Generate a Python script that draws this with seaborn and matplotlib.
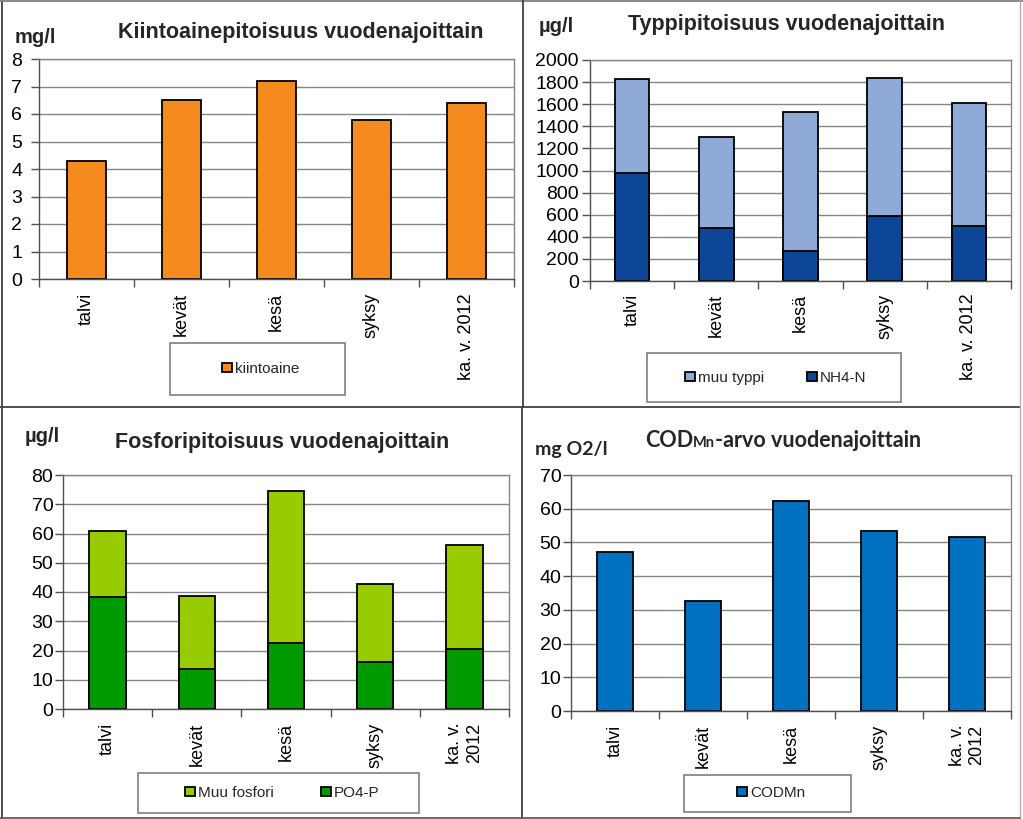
import matplotlib
matplotlib.use("Agg")
import matplotlib.pyplot as plt
import seaborn as sns
import numpy as np
from matplotlib.patches import Rectangle
from matplotlib.lines import Line2D

# ---------------- data ----------------
seasons = ["talvi", "kevät", "kesä", "syksy", "ka. v. 2012"]
labels_top = ["talvi", "kevät", "kesä", "syksy", "ka. v. 2012"]
labels_bottom = ["talvi", "kevät", "kesä", "syksy", "ka. v.\n2012"]

kiintoaine = [4.3, 6.5, 7.2, 5.8, 6.4]            # mg/l
nh4_n = [980, 480, 270, 585, 495]                  # µg/l
muu_typpi = [845, 825, 1260, 1250, 1120]           # µg/l
po4_p = [38.4, 13.7, 22.5, 15.9, 20.6]             # µg/l
muu_fosfori = [22.6, 25.0, 52.1, 27.0, 35.6]       # µg/l
codmn = [47.3, 32.7, 62.4, 53.3, 51.6]             # mg O2/l

c_orange = "#F58A1F"
c_lblue = "#8FAAD6"
c_dblue = "#0D4697"
c_lgreen = "#99CC00"
c_dgreen = "#009A00"
c_blue = "#0070C0"

W, H = 1023, 819
sns.set_theme(style="white")
plt.rcParams["font.family"] = ["Liberation Sans", "DejaVu Sans"]

fig = plt.figure(figsize=(W / 100, H / 100), dpi=100)
fig.patch.set_facecolor("white")


def rect(x0, y0, x1, y1):
    return [x0 / W, 1 - y1 / H, (x1 - x0) / W, (y1 - y0) / H]


def fp(x, y):
    return (x / W, 1 - y / H)


def style(ax, ymax, step, xlabels, ypad, xpad):
    ax.set_xlim(-0.5, 4.5)
    ax.set_ylim(0, ymax)
    ax.set_yticks(np.arange(0, ymax + step / 2, step))
    ax.yaxis.grid(True, color="#868686", lw=1)
    ax.xaxis.grid(False)
    ax.set_axisbelow(True)
    for s in ax.spines.values():
        s.set_visible(True)
        s.set_color("#868686")
        s.set_linewidth(1)
    ax.spines["left"].set_color("#505050")
    ax.spines["bottom"].set_color("#505050")
    ax.set_xticks(range(5))
    ax.set_xticklabels(xlabels, rotation=90, fontsize=13, va="top",
                       ha="center", multialignment="right")
    ax.set_xticks(np.arange(-0.5, 5, 1), minor=True)
    ax.tick_params(axis="x", which="major", length=0, pad=xpad, bottom=True,
                   colors="black")
    ax.tick_params(axis="x", which="minor", length=6, width=1,
                   color="#505050", direction="out", bottom=True)
    ax.tick_params(axis="y", length=6, width=1, color="#505050",
                   direction="out", left=True, labelsize=14, pad=ypad,
                   labelcolor="black")
    ax.set_xlabel("")
    ax.set_ylabel("")


bar_kw = dict(edgecolor="black", linewidth=1.3, saturation=1, width=0.41)

# ---------------- panel 1 ----------------
ax1 = fig.add_axes(rect(39, 59, 514, 279))
sns.barplot(x=seasons, y=kiintoaine, color=c_orange, label="kiintoaine",
            ax=ax1, **bar_kw)
style(ax1, 8, 1, labels_top, 6, 10)

# ---------------- panel 2 ----------------
ax2 = fig.add_axes(rect(590, 60, 1011, 281))
typpi_total = np.array(nh4_n) + np.array(muu_typpi)
sns.barplot(x=seasons, y=typpi_total, color=c_lblue, label="muu typpi",
            ax=ax2, **bar_kw)
sns.barplot(x=seasons, y=nh4_n, color=c_dblue, label="NH4-N", ax=ax2, **bar_kw)
style(ax2, 2000, 200, labels_top, 2, 9)

# ---------------- panel 3 ----------------
ax3 = fig.add_axes(rect(63, 475, 509, 709))
fosfori_total = np.array(po4_p) + np.array(muu_fosfori)
sns.barplot(x=seasons, y=fosfori_total, color=c_lgreen, label="Muu fosfori",
            ax=ax3, **bar_kw)
sns.barplot(x=seasons, y=po4_p, color=c_dgreen, label="PO4-P", ax=ax3, **bar_kw)
style(ax3, 80, 10, labels_bottom, 1, 10)

# ---------------- panel 4 ----------------
ax4 = fig.add_axes(rect(571, 475, 1011, 711))
sns.barplot(x=seasons, y=codmn, color=c_blue, label="CODMn", ax=ax4, **bar_kw)
style(ax4, 70, 10, labels_bottom, 1, 10)

# ---------------- legends ----------------
def legend(ax, center, ncol, colspace):
    h, l = ax.get_legend_handles_labels()
    lg = ax.legend(h, l, loc="center", bbox_to_anchor=fp(*center),
                   bbox_transform=fig.transFigure, frameon=False, ncol=ncol,
                   fontsize=11, handlelength=0.65, handleheight=0.6,
                   handletextpad=0.2, columnspacing=colspace, borderpad=0)
    return lg


def box(x0, y0, x1, y1):
    fig.patches.append(Rectangle(fp(x0, y1), (x1 - x0) / W, (y1 - y0) / H,
                                 transform=fig.transFigure, fill=False,
                                 edgecolor="#7f7f7f", lw=1.2))


box(170, 343, 345, 395)
legend(ax1, (261, 369), 1, 1)
box(647, 353, 901, 402)
legend(ax2, (776, 378), 2, 2.8)
box(138, 773, 419, 813)
legend(ax3, (282, 793), 2, 3.1)
box(684, 775, 851, 812)
legend(ax4, (771, 793), 1, 1)

# ---------------- titles & units ----------------
tkw = dict(fontsize=15.5, fontweight="bold", va="baseline", ha="center")
fig.text(*fp(301, 38), "Kiintoainepitoisuus vuodenajoittain", **tkw)
fig.text(*fp(787, 30), "Typpipitoisuus vuodenajoittain", **tkw)
fig.text(*fp(282, 448), "Fosforipitoisuus vuodenajoittain", **tkw)

ukw = dict(fontsize=14.5, fontweight="bold", va="baseline", ha="left")
fig.text(*fp(15, 43), "mg/l", **ukw)
fig.text(*fp(539, 32), "µg/l", **ukw)
fig.text(*fp(25, 442), "µg/l", **ukw)
fig.text(*fp(535, 455), "mg O2/l", fontsize=14, fontweight="bold",
         va="baseline", ha="left", family=["Lato", "DejaVu Sans"])

renderer = fig.canvas.get_renderer()
parts = [("COD", 15.5), ("Mn", 10.5), ("-arvo vuodenajoittain", 15.5)]
texts = []
for s, fs in parts:
    texts.append(fig.text(0, 0, s, fontsize=fs, fontweight="bold",
                          family=["Lato", "DejaVu Sans"], va="baseline",
                          ha="left"))
widths = [t.get_window_extent(renderer).width for t in texts]
x = 783 - sum(widths) / 2
for t, w in zip(texts, widths):
    t.set_position(fp(x, 447))
    x += w

# ---------------- panel borders ----------------
def line(x0, y0, x1, y1, color="#404040", lw=1.3, ls="-"):
    fig.add_artist(Line2D([x0 / W, x1 / W], [1 - y0 / H, 1 - y1 / H],
                          transform=fig.transFigure, color=color, lw=lw, ls=ls))


line(1.5, 0, 1.5, 819)
line(0, 1, 1023, 1, color="#808080")
line(523, 0, 523, 407)
line(522, 407, 522, 819)
line(0, 407, 1020, 407)
line(1020, 0, 1020, 819, color="#b0b0b0", lw=1)
line(0, 818, 1020, 818, color="#606060")

fig.savefig("out.png", dpi=100)
